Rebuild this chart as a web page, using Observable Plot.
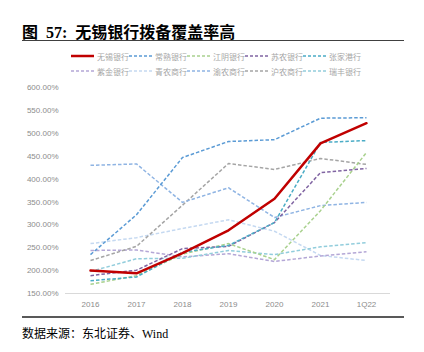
<!DOCTYPE html>
<html><head><meta charset="utf-8">
<script src="https://cdn.jsdelivr.net/npm/d3@7"></script>
<script src="https://cdn.jsdelivr.net/npm/@observablehq/plot@0.6"></script>
<style>
body{margin:0;background:#fff;width:424px;height:352px;overflow:hidden;position:relative;font-family:"Liberation Serif","Noto Sans CJK SC",serif;}
#title{position:absolute;left:22px;top:19px;font-size:16px;font-weight:bold;color:#000;white-space:nowrap;font-family:"Liberation Serif","Noto Sans CJK SC",serif;}
#rule1{position:absolute;left:22px;top:40px;width:382px;height:1px;background:#404040;}
#legend{position:absolute;left:71px;top:50px;width:340px;font-family:"Noto Sans CJK SC",sans-serif;font-size:8px;color:#A6A6A6;}
.item{position:absolute;display:flex;align-items:center;white-space:nowrap;height:12px;}
.item svg{margin-right:3px;}
#chart{position:absolute;left:0;top:80px;}
#rule2{position:absolute;left:22px;top:316px;width:382px;height:2px;background:#595959;}
#source{position:absolute;left:22px;top:324px;font-size:12px;color:#000;white-space:nowrap;font-family:"Liberation Serif","Noto Sans CJK SC",serif;}
</style>
</head><body>
<div id="title">图&nbsp;&nbsp;57:&nbsp;&nbsp;无锡银行拨备覆盖率高</div>
<div id="rule1"></div>
<div id="legend"></div>
<div id="chart"></div>
<div id="rule2"></div>
<div id="source">数据来源：东北证券、Wind</div>
<script>
const years = ["2016","2017","2018","2019","2020","2021","1Q22"];
const names = ["无锡银行","常熟银行","江阴银行","苏农银行","张家港行","紫金银行","青农商行","渝农商行","沪农商行","瑞丰银行"];
const colors = ["#C00000","#5B9BD5","#A9D18E","#8064A2","#4BACC6","#B4A7D6","#C5D9F1","#8FB4E3","#A5A5A5","#92CDDC"];
const wuxi     = [200,194,238,288,357,478,522];
const changshu = [235,322,447,482,486,533,534];
const jiangyin = [170,189,236,259,224,331,458];
const sunong   = [189,201,248,253,305,414,423];
const zjg      = [178,186,240,255,305,480,484];
const zijin    = [244,245,230,237,220,232,241];
const qingnong = [259,272,292,311,286,233,222];
const yunong   = [430,433,349,381,316,342,349];
const hunong   = [222,253,343,434,421,445,432];
const ruifeng  = [198,226,227,244,235,252,261];
const yTicks = [150,200,250,300,350,400,450,500,550,600];

const seriesVals = [wuxi,changshu,jiangyin,sunong,zjg,zijin,qingnong,yunong,hunong,ruifeng];
const rows = [];
seriesVals.forEach((vals,i)=>vals.forEach((v,j)=>rows.push({name:names[i],year:years[j],value:v,idx:i})));

// legend
const leg = document.getElementById("legend");
names.forEach((n,i)=>{
  const d = document.createElement("div");
  d.className="item";
  d.style.left = (i%5)*58 + "px";
  d.style.top = Math.floor(i/5)*15 + "px";
  const dash = i===0 ? "" : 'stroke-dasharray="3,2"';
  const sw = i===0 ? 2.5 : 1.5;
  d.innerHTML = `<svg width="23" height="6"><line x1="0" y1="3" x2="23" y2="3" stroke="${colors[i]}" stroke-width="${sw}" ${dash}/></svg>${n}`;
  leg.appendChild(d);
});

const dashed = rows.filter(r=>r.idx!==0);
const solid = rows.filter(r=>r.idx===0);
const order = [6,5,9,8,7,1,2,3,4];

const plot = Plot.plot({
  width:424, height:240,
  marginLeft:65, marginRight:34, marginTop:7, marginBottom:27,
  style:{fontFamily:"Liberation Sans, sans-serif", fontSize:"8px", color:"#8C8C8C", background:"transparent"},
  x:{type:"point", domain:years, padding:0.5, label:null, tickSize:0, tickPadding:8},
  y:{domain:[150,600], ticks:yTicks, tickFormat:d=>d.toFixed(2)+"%", label:null, tickSize:0, tickPadding:7},
  marks:[
    Plot.ruleY([150],{stroke:"#D9D9D9", strokeWidth:1}),
    ...order.map(i=>Plot.line(dashed.filter(r=>r.idx===i),{x:"year",y:"value",stroke:colors[i],strokeWidth:1.5,strokeDasharray:"3.5,2",strokeLinecap:"butt"})),
    Plot.line(solid,{x:"year",y:"value",stroke:colors[0],strokeWidth:2.5})
  ]
});
document.getElementById("chart").appendChild(plot);
</script>
</body></html>
